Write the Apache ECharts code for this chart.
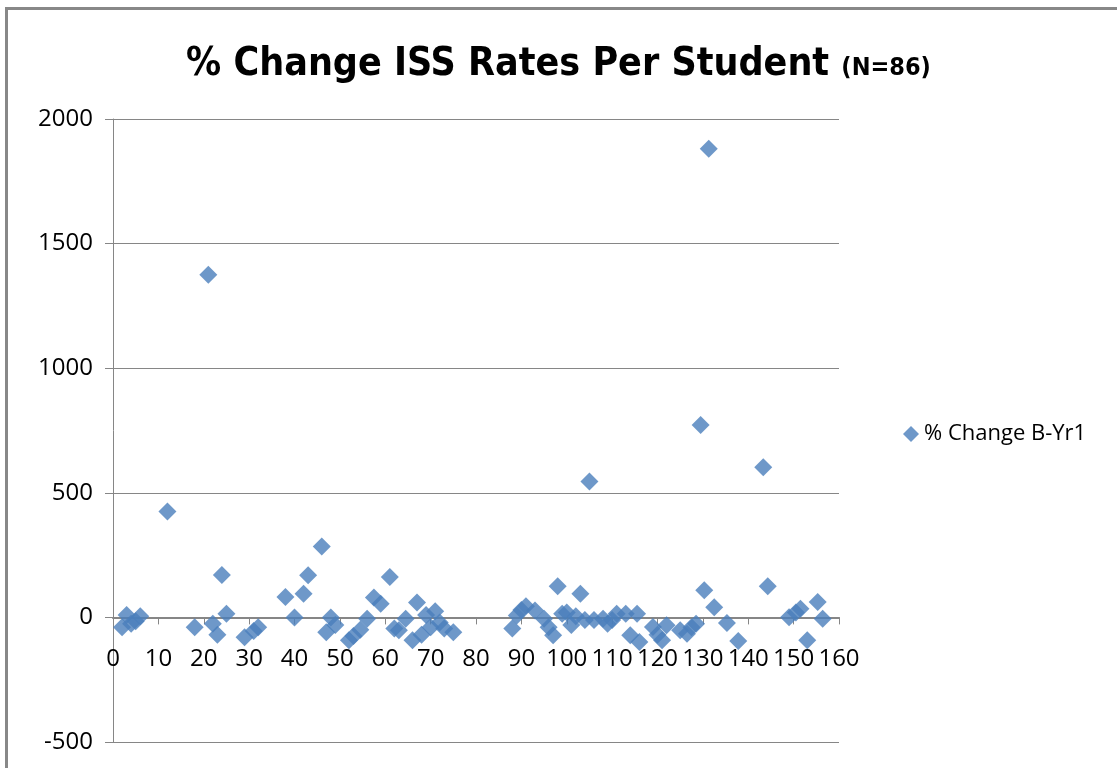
<!DOCTYPE html>
<html>
<head>
<meta charset="utf-8">
<title>% Change ISS Rates Per Student</title>
<script src="https://cdn.jsdelivr.net/npm/echarts@6/dist/echarts.min.js"></script>
<style>
  html, body { margin: 0; padding: 0; background: #fff; }
  #chart { width: 1117px; height: 768px; }
</style>
</head>
<body>
<div id="chart"></div>
<script>
// student index (x) and % change B-Yr1 (y)
var studentNo = [
    2, 3, 4, 5, 6, 12, 18, 21, 22, 23,
    24, 25, 29, 31, 32, 38, 40, 42, 43, 46,
    47, 48, 49, 52, 53, 54.5, 56, 57.5, 59, 61,
    62, 63, 64.5, 66, 67, 68, 69, 70, 71, 72,
    73, 75, 88, 89, 90, 91, 93, 95, 96, 97,
    98, 99, 100, 101, 102, 103, 104, 105, 106, 108,
    109, 110, 111, 113, 114, 115.5, 116, 119, 120, 121,
    122, 125, 126.5, 127.5, 128.5, 129.5, 130.3, 131.3, 132.5, 135.3,
    137.8, 143.3, 144.3, 149, 150.5, 151.5, 153, 155.3, 156.4
];
var pctChange = [
    -40, 10, -25, -15, 5, 425, -40, 1375, -25, -70,
    170, 15, -80, -55, -40, 82, 0, 95, 169, 285,
    -60, 0, -30, -92, -75, -50, -5, 80, 55, 162,
    -45, -52, -5, -92, 60, -70, 10, -40, 25, -20,
    -45, -60, -45, 8, 30, 45, 28, -5, -40, -72,
    125, 15, 20, -30, 5, 95, -10, 545, -10, -5,
    -25, -10, 15, 15, -72, 15, -99, -39, -70, -92,
    -32, -52, -66, -40, -25, 772, 109, 1881, 41, -22,
    -95, 603, 125, 1, 20, 35, -92, 62, -5
];
var xTicks = { min: 0, max: 160, step: 10 };
var yTicks = { min: -500, max: 2000, step: 500 };

var points = [];
for (var i = 0; i < studentNo.length; i++) {
    points.push([studentNo[i], pctChange[i]]);
}

var chart = echarts.init(document.getElementById('chart'));

var axisGray = '#868686';
var labelFont = '"Open Sans", "DejaVu Sans", sans-serif';
var titleFont = '"DejaVu Sans Condensed", "DejaVu Sans", sans-serif';

// plot area in px; the x axis sits on the zero line
var gridTop = 119, gridBottom = 26, plotH = 768 - gridTop - gridBottom;
var zeroOffset = plotH * (0 - yTicks.min) / (yTicks.max - yTicks.min);

var option = {
    backgroundColor: '#ffffff',
    animation: false,
    title: {
        text: '% Change ISS Rates Per Student {small|(N=86)}',
        left: 'center',
        top: 40,
        textStyle: {
            fontFamily: titleFont,
            fontSize: 39,
            fontWeight: 'bold',
            color: '#000',
            rich: {
                small: {
                    fontFamily: titleFont,
                    fontSize: 25,
                    fontWeight: 'bold',
                    color: '#000',
                    padding: [8, 0, 0, 0]
                }
            }
        }
    },
    legend: {
        left: 898,
        top: 418,
        icon: 'diamond',
        itemWidth: 16,
        itemHeight: 16,
        itemGap: 6,
        textStyle: { fontFamily: labelFont, fontSize: 22, color: '#000' },
        data: ['% Change B-Yr1']
    },
    grid: {
        left: 113,
        right: 278,
        top: gridTop,
        bottom: gridBottom,
        containLabel: false,
        outerBoundsMode: 'none'
    },
    xAxis: {
        type: 'value',
        position: 'bottom',
        offset: -zeroOffset,
        min: xTicks.min,
        max: xTicks.max,
        interval: xTicks.step,
        axisLine: { show: true, onZero: false, lineStyle: { color: axisGray, width: 2 } },
        axisTick: { show: true, length: 7, lineStyle: { color: axisGray, width: 1 } },
        axisLabel: { fontFamily: labelFont, fontSize: 24, color: '#000', margin: 30 },
        splitLine: { show: false }
    },
    yAxis: {
        type: 'value',
        min: yTicks.min,
        max: yTicks.max,
        interval: yTicks.step,
        axisLine: { show: true, lineStyle: { color: axisGray, width: 1 } },
        axisTick: { show: true, length: 8, lineStyle: { color: axisGray } },
        axisLabel: {
            fontFamily: labelFont,
            fontSize: 24,
            color: '#000',
            margin: 20,
            formatter: function (v) { return String(v); }
        },
        splitLine: { show: true, lineStyle: { color: axisGray, width: 1 } }
    },
    graphic: [
        {
            type: 'rect',
            left: 4,
            top: 6,
            shape: { width: 1300, height: 900 },
            style: { fill: 'none', stroke: '#888888', lineWidth: 3 },
            silent: true
        }
    ],
    series: [
        {
            name: '% Change B-Yr1',
            type: 'scatter',
            symbol: 'diamond',
            symbolSize: 18,
            data: points,
            itemStyle: { color: '#4a7ebb' }
        }
    ]
};

chart.setOption(option);
</script>
</body>
</html>
